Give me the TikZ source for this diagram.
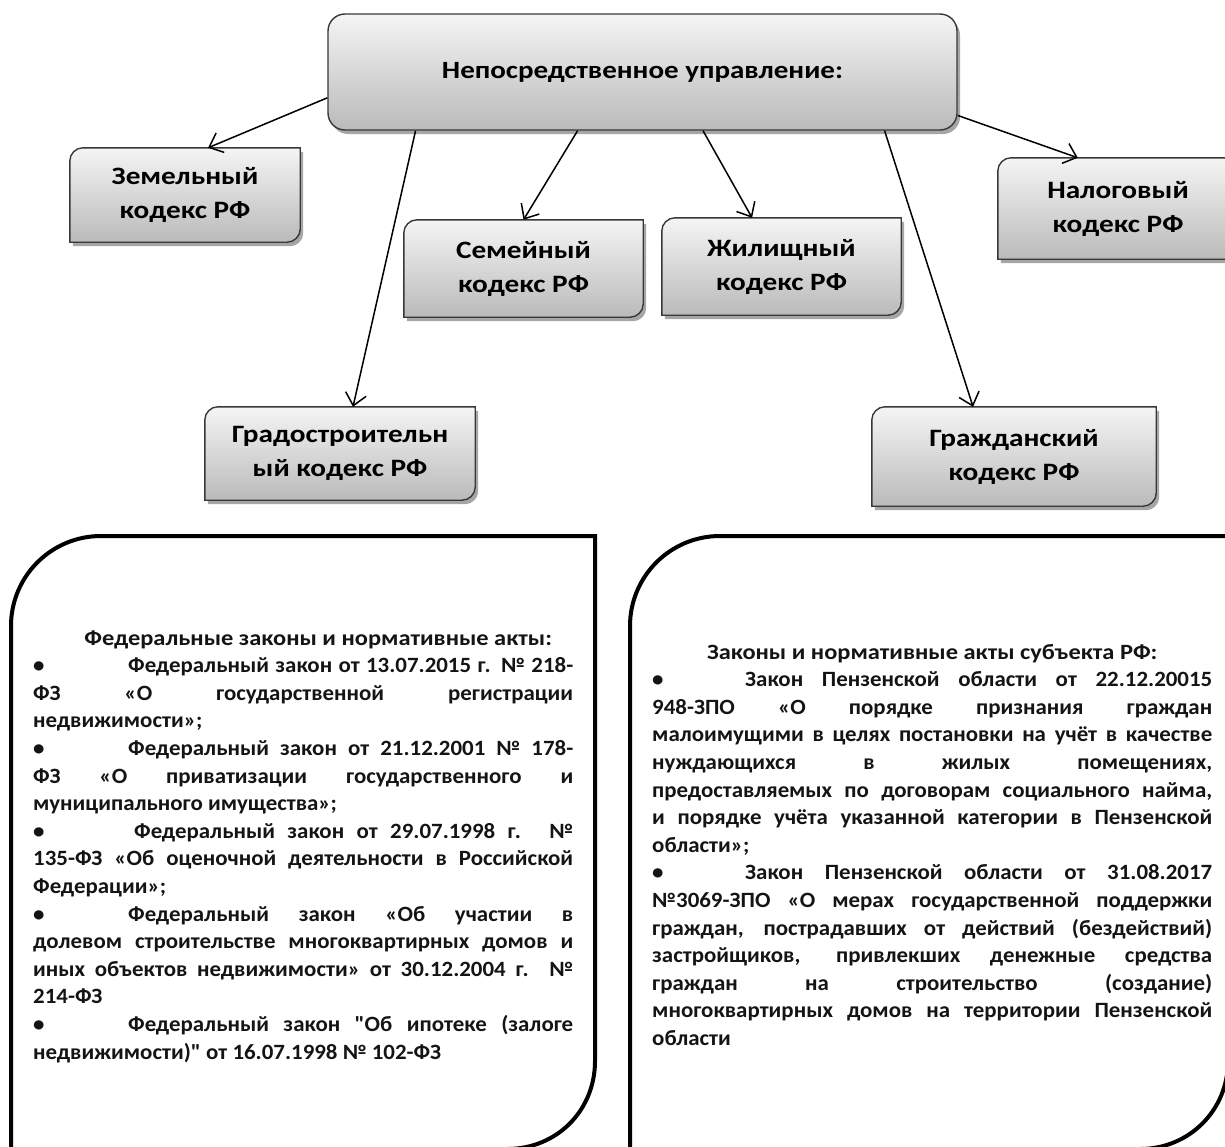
\documentclass[tikz,border=0pt]{standalone}
\usepackage{fontspec}
\setmainfont{Carlito}[Ligatures=TeXOff, FakeStretch=1.17]
\newfontfamily\lawfont{Carlito}[Ligatures=TeXOff, FakeStretch=1.05]
\newfontfamily\lawheadfont{Carlito}[Ligatures=TeXOff, FakeStretch=1.12]
\usetikzlibrary{arrows.meta,calc,shadows}
\pgfdeclarelayer{background}
\pgfsetlayers{background,main}
\tikzset{
  boxline/.style={draw=black!78, line width=1.4pt},
  boxshade/.style={top color=black!4, bottom color=black!27},
  boxshadow/.style={drop shadow={shadow xshift=3pt, shadow yshift=-4pt, opacity=0.35, fill=black}},
  codetext/.style={font=\bfseries\fontsize{25}{34}\selectfont, align=center, inner sep=0pt, text=black},
  arr/.style={line width=1.5pt, -{Straight Barb[length=12pt,width=21pt,line width=1.5pt]}},
  bigframe/.style={line width=4pt, draw=black},
  lawtext/.style={font=\lawfont\bfseries\fontsize{21.8}{27.6}\selectfont, align=justify, inner sep=0pt, anchor=base west, text=black!92},
}
\newcommand\codebox[6]{%
  \node[codetext, minimum width=#4pt, minimum height=#5pt] (#1) at (#2,#3) {#6};
  \begin{pgfonlayer}{background}
  \path[boxshadow, boxshade, boxline]
    ([xshift=13pt]#1.north west) -- (#1.north east) -- ([yshift=13pt]#1.south east)
    .. controls ([yshift=6pt]#1.south east) and ([xshift=-6pt]#1.south east) .. ([xshift=-13pt]#1.south east)
    -- (#1.south west) -- ([yshift=-13pt]#1.north west)
    .. controls ([yshift=-6pt]#1.north west) and ([xshift=6pt]#1.north west) .. cycle;
  \end{pgfonlayer}
}
\newcommand\lawbullet[1]{\par\noindent\makebox[#1][l]{•}}
\newcommand\lawhead[1]{\centerline{\lawheadfont\bfseries\fontsize{21.8}{27.6}\selectfont #1}}
\begin{document}
\begin{tikzpicture}[x=1pt,y=-1pt]
\useasboundingbox (0,0) rectangle (1225,1146);

% top box
\node[codetext, font=\bfseries\fontsize{24.8}{30}\selectfont, minimum width=629pt, minimum height=116pt,
      rounded corners=17pt, boxshade, boxline, boxshadow] (top) at (642.5,72) {Непосредственное управление:};

% code boxes
\codebox{zem}{185}{195}{230}{94}{Земельный\\кодекс РФ}
\codebox{sem}{523.5}{268.5}{239}{97}{Семейный\\кодекс РФ}
\codebox{zhil}{781.5}{266.5}{239}{97}{Жилищный\\кодекс РФ}
\codebox{nal}{1118}{208.5}{240}{101}{Налоговый\\кодекс РФ}
\codebox{grad}{340}{453.5}{270}{93}{Градостроительн\\ый кодекс РФ}
\codebox{grazh}{1014}{456.5}{284}{99}{Гражданский\\кодекс РФ}

% connectors
\draw[arr] ($(top.north west)!0.72!(top.south west)$) -- ($(zem.north west)!0.6!(zem.north east)$);
\draw[arr] ($(top.south west)!0.14!(top.south east)$) -- ($(grad.north west)!0.548!(grad.north east)$);
\draw[arr] ($(top.south west)!0.397!(top.south east)$) -- ($(sem.north west)!0.5!(sem.north east)$);
\draw[arr] ($(top.south west)!0.596!(top.south east)$) -- ($(zhil.north west)!0.377!(zhil.north east)$);
\draw[arr] ($(top.south west)!0.884!(top.south east)$) -- ($(grazh.north west)!0.356!(grazh.north east)$);
\draw[arr] ($(top.north east)!0.87!(top.south east)$) -- ($(nal.north west)!0.333!(nal.north east)$);

% big frames
\draw[bigframe] (11,626) .. controls (11,576.3) and (51.3,536) .. (101,536) -- (595,536)
  -- (595,1061) .. controls (595,1110.7) and (556.7,1149) .. (507,1149) -- (11,1149) -- cycle;
\draw[bigframe] (630,626) .. controls (630,576.3) and (670.3,536) .. (720,536) -- (1228,536)
  -- (1228,1061) .. controls (1228,1110.7) and (1188.7,1149) .. (1140,1149) -- (630,1149) -- cycle;

% law texts
\node[lawtext, text width=540pt] (fed) at (33,645) {%
\hyphenpenalty=10000 \exhyphenpenalty=10000 \tolerance=10000
\lawhead{\hspace*{30pt}Федеральные законы и нормативные акты:}%
\lawbullet{95pt}Федеральный закон от 13.07.2015 г. № 218-\linebreak ФЗ «О государственной регистрации\linebreak недвижимости»;%
\lawbullet{95pt}Федеральный закон от 21.12.2001 № 178-\linebreak ФЗ «О приватизации государственного и\linebreak муниципального имущества»;%
\lawbullet{101pt}Федеральный закон от 29.07.1998 г. №\linebreak 135-ФЗ «Об оценочной деятельности в Российской\linebreak Федерации»;%
\lawbullet{95pt}Федеральный закон «Об участии в\linebreak долевом строительстве многоквартирных домов и\linebreak иных объектов недвижимости» от 30.12.2004 г. №\linebreak 214-ФЗ%
\lawbullet{95pt}Федеральный закон "Об ипотеке (залоге\linebreak недвижимости)" от 16.07.1998 № 102-ФЗ\par};

\node[lawtext, text width=560pt] (subj) at (652,659) {%
\hyphenpenalty=10000 \exhyphenpenalty=10000 \tolerance=10000
\lawhead{Законы и нормативные акты субъекта РФ:}%
\lawbullet{93pt}Закон Пензенской области от 22.12.20015\linebreak 948-ЗПО «О порядке признания граждан\linebreak малоимущими в целях постановки на учёт в качестве\linebreak нуждающихся в жилых помещениях,\linebreak предоставляемых по договорам социального найма,\linebreak и порядке учёта указанной категории в Пензенской\linebreak области»;%
\lawbullet{93pt}Закон Пензенской области от 31.08.2017\linebreak №3069-ЗПО «О мерах государственной поддержки\linebreak граждан, пострадавших от действий (бездействий)\linebreak застройщиков, привлекших денежные средства\linebreak граждан на строительство (создание)\linebreak многоквартирных домов на территории Пензенской\linebreak области\par};
\end{tikzpicture}
\end{document}
